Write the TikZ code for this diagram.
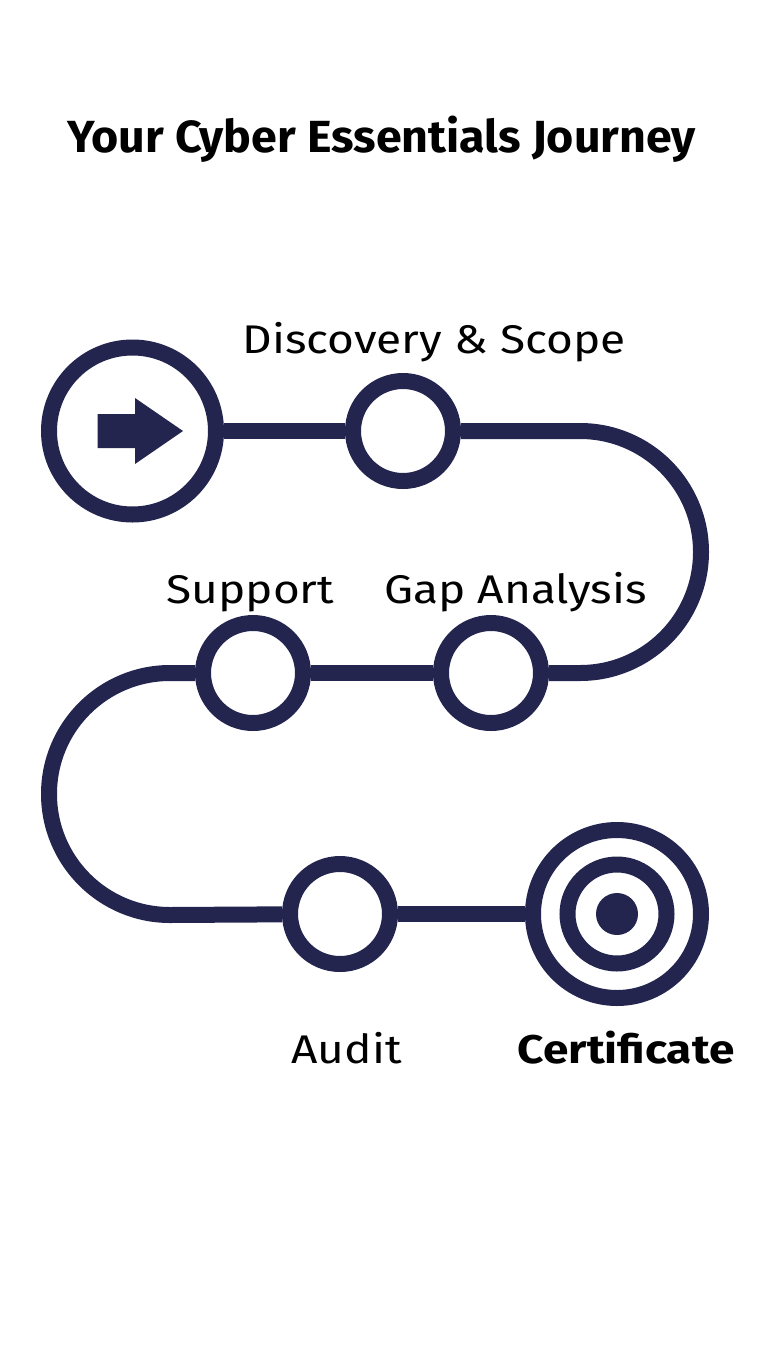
\documentclass[tikz,border=0pt]{standalone}
\usepackage{fontspec}
\setmainfont{Fira Sans}
\newfontfamily\titlefont[FakeStretch=1.035]{Fira Sans}
\newfontfamily\labelfont[FakeStretch=1.15]{Fira Sans}
\usepackage{tikz}
\definecolor{journeynavy}{HTML}{23254F}

\begin{document}
\begin{tikzpicture}[x=1pt, y=-1pt,
    track/.style={journeynavy, line width=16pt},
    stopring/.style={circle, draw=journeynavy, line width=16pt, fill=white, inner sep=0pt, minimum size=100pt},
    steplabel/.style={anchor=base, font=\labelfont\fontsize{40}{48}\selectfont, inner sep=0pt}]
        \useasboundingbox (0,0) rectangle (768,1365);
        \node[anchor=base, inner sep=0pt, font=\titlefont\fontsize{45}{54}\selectfont\bfseries] (title) at (381.5,152) {Your Cyber Essentials Journey};
        % stops along the track
        \node[stopring, minimum size=167pt] (start) at (132.5,431) {};
        \node[stopring] (disc) at (403,431) {};
        \node[stopring] (gap) at (491,673) {};
        \node[stopring] (supp) at (253,673) {};
        \node[stopring] (audit) at (340,914) {};
        \node[stopring, minimum size=168pt] (cert) at (617,914) {};
        % where the track turns
        \coordinate (turnR) at (580,431);
        \coordinate (turnL) at (170,673);
        % track
        \draw[track] (start) -- (disc);
        \draw[track] (disc) -- (turnR) arc[start angle=-90, end angle=90, radius=121] -- (gap);
        \draw[track] (gap) -- (supp);
        \draw[track] (supp) -- (turnL) arc[start angle=-90, end angle=-270, radius=121] -- (audit);
        \draw[track] (audit) -- (cert);
        % arrow in the start ring
        \fill[journeynavy] (97.7,414) -- (135,414) -- (135,398) -- (183,431) -- (135,464) -- (135,448) -- (97.7,448) -- cycle;
        % target rings
        \node[stopring, minimum size=99pt] (certmid) at (cert) {};
        \node[circle, fill=journeynavy, inner sep=0pt, minimum size=42pt] (certdot) at (cert) {};
        % labels
        \node[steplabel] (lblDisc) at (434,353) {Discovery \& Scope};
        \node[steplabel] (lblSupp) at (250.5,603) {Support};
        \node[steplabel] (lblGap) at (515.5,603) {Gap Analysis};
        \node[steplabel] (lblAudit) at (346.5,1063) {Audit};
        \node[steplabel, font=\labelfont\fontsize{40}{48}\selectfont\bfseries] (lblCert) at (626,1063) {Certificate};
\end{tikzpicture}
\end{document}
